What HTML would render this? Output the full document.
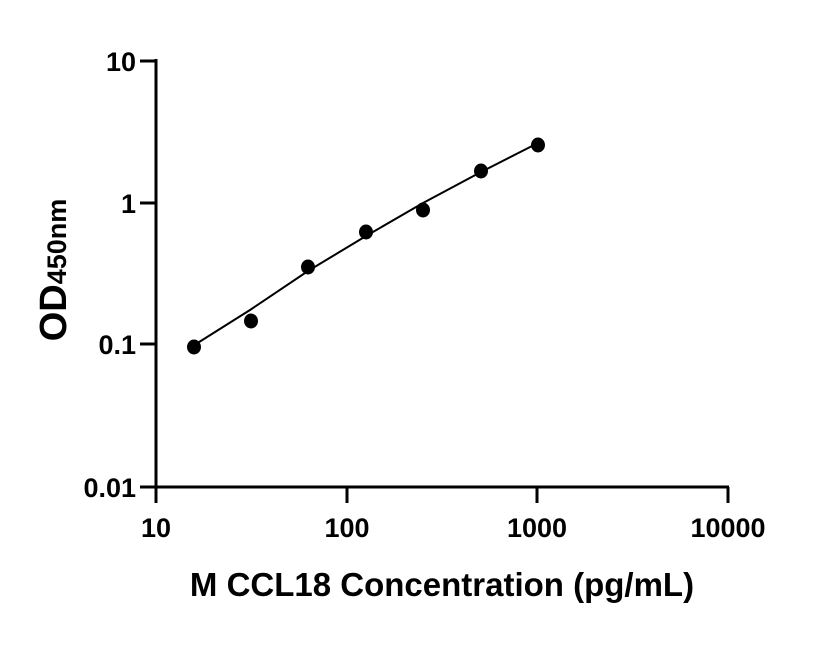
<!DOCTYPE html>
<html><head><style>body{margin:0;background:#fff}</style></head><body>
<svg width="816" height="640" xmlns="http://www.w3.org/2000/svg" font-family="Liberation Sans, Arial, sans-serif" font-weight="bold">
<g stroke="#000" stroke-width="3" fill="none">
<line x1="156" y1="59" x2="156" y2="489"/>
<line x1="140" y1="487" x2="729" y2="487"/>
<line x1="140" y1="61" x2="156" y2="61"/>
<line x1="140" y1="203" x2="156" y2="203"/>
<line x1="140" y1="344" x2="156" y2="344"/>
<line x1="156" y1="487" x2="156" y2="503"/>
<line x1="347" y1="487" x2="347" y2="503"/>
<line x1="537" y1="487" x2="537" y2="503"/>
<line x1="728" y1="487" x2="728" y2="503"/>
</g>
<polyline fill="none" stroke="#000" stroke-width="2" points="196,344 250,310 308,271 366,236 423,203 481,172 538,143"/>
<g fill="#000">
<ellipse cx="194" cy="347" rx="7" ry="7.5"/>
<ellipse cx="251" cy="321" rx="7" ry="7.5"/>
<ellipse cx="308" cy="267" rx="7" ry="7.5"/>
<ellipse cx="366" cy="232" rx="7" ry="7.5"/>
<ellipse cx="423" cy="210" rx="7" ry="7.5"/>
<ellipse cx="481" cy="171" rx="7" ry="7.5"/>
<ellipse cx="538" cy="145" rx="7" ry="7.5"/>
</g>
<g font-size="27" text-anchor="end">
<text x="136" y="71">10</text>
<text x="136" y="213">1</text>
<text x="136" y="354">0.1</text>
<text x="136" y="497">0.01</text>
</g>
<g font-size="27" text-anchor="middle">
<text x="156" y="537">10</text>
<text x="347" y="537">100</text>
<text x="537" y="537">1000</text>
<text x="728" y="537">10000</text>
</g>
<text x="442" y="596" font-size="33" text-anchor="middle">M CCL18 Concentration (pg/mL)</text>
<text transform="translate(66,270) rotate(-90)" text-anchor="middle"><tspan font-size="38">OD</tspan><tspan font-size="27">450nm</tspan></text>
</svg>
</body></html>
